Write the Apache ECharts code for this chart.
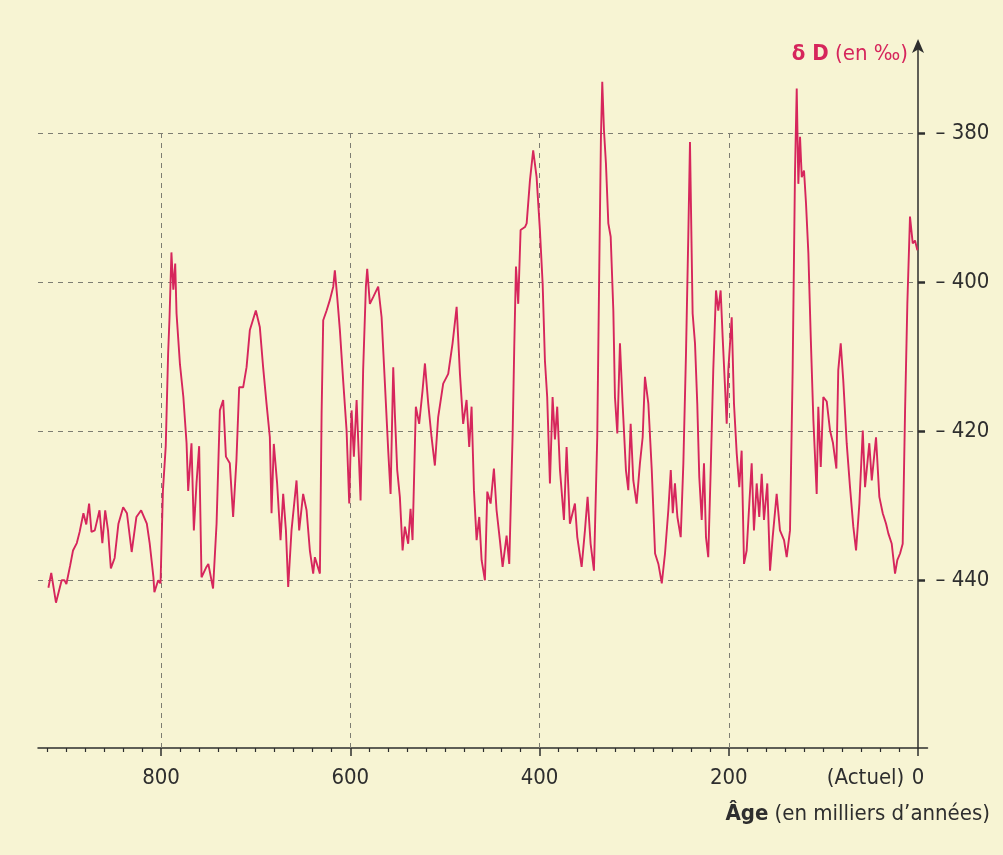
<!DOCTYPE html>
<html>
<head>
<meta charset="utf-8">
<script src="https://cdn.jsdelivr.net/npm/echarts@6/dist/echarts.min.js"></script>
<style>
  html, body { margin: 0; padding: 0; background: #f7f4d3; }
  #chart { width: 1003px; height: 855px; }
</style>
</head>
<body>
<div id="chart"></div>
<script>
// δD record: [age (thousands of years), δD (‰)]
const record900to600 = [
[919,-441],[916,-439],[911,-443],[905,-440],[902,-440],[900,-440.5],[896,-438],[893,-436],[889,-435],[886,-433.5],[882,-431],[879,-432.5],[876,-429.7],[873.5,-433.5],[870,-433.3],[865,-430.6],[862,-435],[859,-430.6],[856,-433.3],[853,-438.4],[849,-437],[845,-432.4],[840,-430.2],[836,-431],[831,-436.2],[826,-431.5],[821,-430.6],[815,-432.4],[812,-435],[808,-439.6],[807,-441.6],[803,-440],[800.5,-440.4],[798,-428],[795,-422],[792.5,-409.6],[791,-404.7],[789,-396],[787,-401],[785,-397.5],[783.6,-404.2],[780,-411],[776.4,-415.4],[773,-421.6],[771.3,-428],[767.8,-421.6],[765.3,-433.3],[762.5,-427],[759.7,-422],[757.2,-439.6],[752,-438.2],[750,-437.8],[745,-441.1],[741.3,-432.4],[737.8,-417.2],[734.3,-415.8],[731.4,-423.4],[727.3,-424.3],[723.8,-431.5],[720.3,-423.9],[717.4,-414.1],[713.2,-414.1],[709.6,-411.4],[706.1,-406.4],[699.8,-403.8],[695.6,-406],[692.1,-411.4],[688.5,-416.3],[685,-420.8],[683.2,-431],[680.8,-421.7],[677.3,-427],[673.7,-434.6],[670.9,-428.4],[668,-433.3],[665.6,-440.9],[662.1,-433.3],[656.8,-426.6],[654,-433.3],[649.8,-428.4],[646.2,-430.6],[642.7,-436],[639.2,-439.1],[637.4,-436.9],[632.1,-439.1],[630.3,-417.6],[628.6,-405.1],[625,-403.8],[621.6,-402.4],[618,-400.6],[616.3,-398.4],[613.8,-402],[611,-406.4],[607.5,-413.2],[603.9,-419.9],[601.1,-429.7]
];
const record600to300 = [
[598.6,-417.2],[596.2,-423.4],[593.3,-415.8],[589.1,-429.3],[586.4,-411.8],[583.5,-400.6],[582.1,-398.2],[579.3,-402.9],[575.8,-402],[570.5,-400.6],[566.9,-404.7],[563.4,-413.6],[559.9,-422.6],[557.4,-428.4],[554.6,-411.4],[552.9,-417.6],[550.4,-425.2],[547.6,-428.8],[544.7,-436],[542.3,-432.8],[538.8,-435.1],[536.3,-430.4],[534.2,-434.6],[530.7,-416.7],[527.2,-419],[523.6,-414.5],[521.1,-410.9],[517.6,-416.3],[514.1,-420.8],[510.6,-424.6],[507.1,-418.1],[501.8,-413.6],[496.5,-412.3],[491.9,-408.2],[487.6,-403.3],[484.1,-412.3],[480.7,-419],[477.1,-415.8],[474.3,-422.1],[471.8,-416.7],[469.3,-427.9],[466.5,-434.6],[463.7,-431.5],[461.2,-437.3],[457.7,-440],[455.2,-428.1],[451.7,-429.7],[448.2,-425],[445.4,-430.6],[441.9,-434.6],[439,-438.2],[434.8,-434],[432,-437.8],[428.4,-420.3],[426.7,-408.7],[424.9,-397.9],[422.5,-402.9],[420,-393],[415.4,-392.6],[413.6,-392.1],[410.1,-386.3],[406.7,-382.3],[403.1,-385.9],[399.6,-393],[396.7,-400.2],[394.3,-410.5],[391.9,-415.4],[389,-427],[386.2,-415.4],[383.7,-421.1],[381.3,-416.7],[378.4,-425.2],[374.2,-431.9],[371.4,-422.1],[367.9,-432.4],[362.6,-429.7],[360.1,-434.2],[355.5,-438.2],[352,-433.3],[349.2,-428.8],[346,-435.1],[342.5,-438.7],[339,-420.8],[336.9,-398.4],[335.1,-380.5],[333.7,-373.1],[331.9,-379.6],[329.8,-384.1],[327.3,-392.1],[324.8,-393.9],[322,-403.8],[320.3,-415.4],[317.8,-420.3],[315,-408.2],[312.2,-416.3],[308.7,-425.2],[306.2,-427.9],[303.7,-419],[300.9,-426.6]
];
const record300to0 = [
[297.4,-429.7],[293.9,-424.3],[291,-420.8],[288.6,-412.7],[285,-416.3],[281.4,-425.2],[277.9,-436.4],[274.4,-437.8],[270.8,-440.4],[267.4,-436.4],[263.9,-430.6],[261.3,-425.2],[259.2,-431],[256.9,-427],[254.3,-431.5],[250.8,-434.2],[248,-424.3],[245.2,-409.5],[242.8,-393.9],[241,-381.2],[239.2,-396.2],[238.2,-404.2],[235.7,-408.2],[233.3,-416.3],[231.2,-426.1],[228.6,-431.9],[226.2,-424.3],[224.1,-434.2],[221.7,-436.9],[219.1,-425.2],[216.4,-411.8],[213.5,-401.1],[211.1,-403.8],[208.6,-401.1],[206.5,-407.3],[204,-414],[202.2,-419],[200.5,-411.8],[196.9,-404.7],[194.5,-416.3],[191.6,-423],[188.9,-427.5],[186.4,-422.6],[183.9,-437.8],[181.1,-436],[178.3,-429.7],[175.8,-424.3],[173.4,-433.3],[170.5,-427],[167.8,-431.5],[165.2,-425.7],[162.8,-431.9],[159.3,-427],[156.4,-438.7],[153.6,-434.2],[149.4,-428.4],[145.9,-433.3],[141.6,-434.6],[138.8,-436.9],[135.3,-433.3],[132.5,-411.8],[130,-385],[128.2,-374],[126.5,-386.8],[124.7,-380.5],[122.9,-385.9],[120.5,-385],[118.4,-389.4],[115.9,-396.1],[113.4,-407.3],[110.6,-418.5],[107.1,-428.4],[105.4,-416.7],[102.8,-424.8],[100.1,-415.4],[96.5,-416],[93,-419.9],[90,-421.5],[86.3,-425],[84.3,-411.8],[81.7,-408.2],[79,-413.2],[75.4,-421.6],[71.9,-427.5],[68.4,-432.8],[65.5,-436],[62,-429.7],[58.4,-419.9],[56,-427.5],[51.5,-421.6],[48.9,-426.6],[44.4,-420.8],[40.9,-428.8],[37.3,-431],[33.8,-432.4],[31.4,-433.7],[27.8,-435.1],[24.3,-439.1],[21.9,-437.3],[19,-436.4],[16.2,-435.1],[13.7,-417.2],[11.3,-402.9],[8.5,-391.2],[5.6,-394.8],[3.2,-394.4],[0.7,-395.7]
];

const xMajorTicks = [0, 200, 400, 600, 800];
const xMinorTicks = [20,40,60,80,100,120,140,160,180,220,240,260,280,300,320,340,360,380,420,440,460,480,500,520,540,560,580,620,640,660,680,700,720,740,760,780,820,840,860,880,900,920];
const yTicks = [-380, -400, -420, -440];
const yTitle = ['δ D', '(en ‰)'];
const xTitle = ['Âge', '(en milliers d\u2019années)'];

const X_MIN = -10, X_MAX = 930, Y_MIN = -462.5, Y_MAX = -367.9;
const FONT = "'DejaVu Sans Condensed', 'Liberation Sans Narrow', 'Open Sans', sans-serif";
const FS = 22;
const INK = '#2e2e2e';
const RED = '#d6265c';
const GRID_LINE = { type: [5, 5], color: '#7d7d72', width: 1 };

const record = record900to600.concat(record600to300, record300to0);

const gridLines = [];
yTicks.forEach(v => gridLines.push([{ coord: [X_MAX, v] }, { coord: [0, v] }]));
xMajorTicks.filter(v => v > 0).forEach(v => gridLines.push([{ coord: [v, Y_MIN] }, { coord: [v, -380] }]));

const chart = echarts.init(document.getElementById('chart'), null, { renderer: 'canvas' });
chart.setOption({
  animation: false,
  backgroundColor: '#f7f4d3',
  textStyle: { fontFamily: FONT },
  title: [
    {
      text: '{b|' + yTitle[0] + '} {n|' + yTitle[1] + '}',
      right: 95, top: 43, padding: 0,
      textStyle: {
        fontWeight: 'normal', fontFamily: FONT, fontSize: FS, color: RED,
        rich: {
          b: { fontFamily: FONT, fontSize: FS, fontWeight: 'bold', color: RED },
          n: { fontFamily: FONT, fontSize: FS, fontWeight: 'normal', color: RED }
        }
      }
    },
    {
      text: '{b|' + xTitle[0] + '} {n|' + xTitle[1] + '}',
      right: 13, top: 803, padding: 0,
      textStyle: {
        fontWeight: 'normal', fontFamily: FONT, fontSize: FS, color: INK,
        rich: {
          b: { fontFamily: FONT, fontSize: FS, fontWeight: 'bold', color: INK },
          n: { fontFamily: FONT, fontSize: FS, fontWeight: 'normal', color: INK }
        }
      }
    }
  ],
  grid: { left: 38, right: 75.5, top: 43, bottom: 107, containLabel: false, outerBoundsMode: 'none' },
  xAxis: [
    {
      type: 'value', inverse: true, min: X_MIN, max: X_MAX, position: 'bottom',
      axisLine: { show: true, onZero: false, lineStyle: { color: INK, width: 1.5 } },
      axisTick: { show: true, customValues: xMajorTicks, length: 8, lineStyle: { color: INK, width: 1.5 } },
      axisLabel: {
        customValues: xMajorTicks, margin: 19, color: INK, fontSize: FS, fontFamily: FONT,
        formatter: v => v === 0 ? '{a|(Actuel) }0{p|}' : String(v),
        rich: {
          a: { width: 86, align: 'right', fontSize: FS, fontFamily: FONT, color: INK },
          p: { width: 86 }
        }
      },
      splitLine: { show: false }
    },
    {
      type: 'value', inverse: true, min: X_MIN, max: X_MAX, position: 'bottom',
      axisLine: { show: false, onZero: false },
      axisTick: { show: true, customValues: xMinorTicks, length: 4, lineStyle: { color: INK, width: 1.2 } },
      axisLabel: { show: false },
      splitLine: { show: false }
    }
  ],
  yAxis: {
    type: 'value', position: 'right', min: Y_MIN, max: Y_MAX,
    axisLine: {
      show: true, onZero: true,
      symbol: ['none', 'arrow'], symbolSize: [9, 14], symbolOffset: [0, 4],
      lineStyle: { color: INK, width: 1.5 }
    },
    axisTick: { show: true, customValues: yTicks, length: 7, lineStyle: { color: INK, width: 2.5 } },
    axisLabel: {
      customValues: yTicks, margin: 8, color: INK, fontSize: FS, fontFamily: FONT,
      formatter: v => '\u2013 ' + Math.abs(v)
    },
    splitLine: { show: false }
  },
  series: [{
    type: 'line',
    xAxisIndex: 0,
    data: record,
    showSymbol: false,
    symbol: 'none',
    smooth: false,
    clip: false,
    lineStyle: { color: RED, width: 1.9 },
    z: 5,
    markLine: {
      silent: true,
      symbol: ['none', 'none'],
      label: { show: false },
      lineStyle: GRID_LINE,
      z: 1,
      data: gridLines
    }
  }]
});
</script>
</body>
</html>
